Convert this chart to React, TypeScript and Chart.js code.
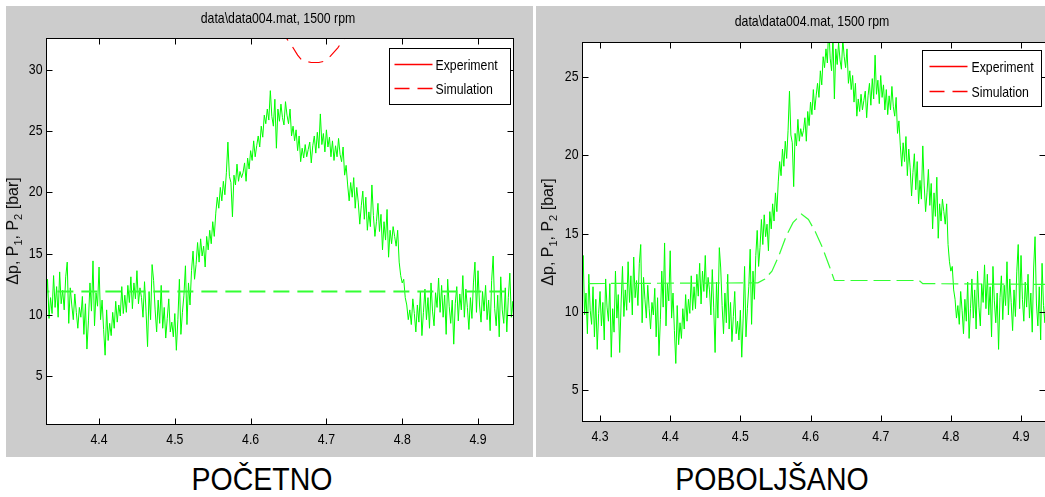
import React, { useEffect, useRef } from 'react';
import { Chart, registerables } from 'chart.js';

Chart.register(...registerables);

const REGULAR = '"Liberation Sans", Arial, sans-serif';
const NARROW_SCALE = 0.82;

// ---------------- DATA ----------------
// experiment samples (same measurement in both panels), starting at t = 4.270 s, every 0.002 s
const expStart = 4.27;
const expStep = 0.002;
const expValues = [
  // 4.270
  12.8, 14.2, 10.4, 13.6, 9.8, 11.2, 8.6, 12.4, 10.1, 9.2,
  // 4.290
  11.6, 8.4, 10.8, 7.6, 9.9, 11.3, 9.1, 10.6, 8.2, 12.1,
  // 4.310
  10.3, 9.4, 11.8, 7.1, 10.2, 8.7, 12.6, 9.6, 11.1, 7.4,
  // 4.330
  10.5, 12.9, 9.7, 11.4, 10.1, 13.2, 10.6, 12.3, 9.8, 13.5,
  // 4.350
  10.9, 12.0, 10.4, 13.1, 14.3, 9.3, 12.2, 10.8, 9.6, 11.7,
  // 4.370
  10.2, 8.9, 10.6, 9.8, 11.5, 8.4, 10.9, 7.2, 9.5, 12.6,
  // 4.390
  10.3, 14.4, 9.1, 11.8, 10.7, 13.9, 9.6, 11.2, 8.8, 6.7,
  // 4.410
  10.4, 7.9, 9.3, 8.3, 10.2, 8.9, 11.1, 9.4, 10.8, 9.9,
  // 4.430
  12.3, 10.1, 11.6, 10.2, 12.4, 11.0, 13.1, 10.5, 12.6, 11.3,
  // 4.450
  13.6, 10.9, 12.2, 11.4, 9.8, 12.7, 10.3, 7.4, 11.9, 9.6,
  // 4.470
  14.1, 12.8, 10.4, 8.6, 11.2, 9.3, 12.4, 8.9, 10.6, 8.1,
  // 4.490
  9.7, 11.3, 8.6, 9.4, 8.2, 10.1, 7.1, 9.6, 12.9, 8.4,
  // 4.510
  10.2, 11.6, 14.0, 9.2, 12.6, 10.8, 13.6, 15.2, 12.9, 14.1,
  // 4.530
  15.9, 14.3, 16.2, 14.8, 15.6, 13.9, 16.4, 15.3, 16.9, 15.8,
  // 4.550
  17.6, 16.4, 18.3, 19.6, 18.7, 20.4, 19.3, 20.9, 19.8, 21.6,
  // 4.570
  24.1, 21.3, 20.8, 18.0, 21.4, 20.6, 22.3, 20.9, 21.7, 21.2,
  // 4.590
  21.6, 22.4, 20.9, 22.8, 21.9, 23.4, 22.6, 24.2, 22.9, 23.8,
  // 4.610
  24.6, 23.7, 25.4, 24.5, 26.3, 25.6, 26.8, 25.9, 28.3, 26.2,
  // 4.630
  25.4, 27.6, 23.6, 26.8, 25.8, 27.2, 26.1, 25.5, 27.4, 26.3,
  // 4.650
  25.6, 26.8, 24.6, 25.4, 24.2, 25.1, 23.4, 24.6, 22.5, 23.6,
  // 4.670
  22.8, 23.9, 22.9, 23.5, 24.1, 22.4, 23.8, 24.6, 23.2, 24.9,
  // 4.690
  23.6, 26.4, 23.9, 24.8, 23.3, 25.1, 23.7, 24.5, 22.9, 24.2,
  // 4.710
  22.6, 23.8, 22.9, 24.4, 23.1, 22.5, 23.7, 21.4, 22.2, 20.6,
  // 4.730
  19.3, 20.8, 19.6, 21.2, 18.7, 20.4, 19.2, 17.4, 18.9, 20.1,
  // 4.750
  17.8, 19.6, 16.9, 18.4, 17.2, 20.6, 18.1, 16.4, 17.6, 19.1,
  // 4.770
  16.8, 18.2, 15.3, 17.6, 16.1, 18.6, 14.7, 16.9, 15.8, 17.2,
  // 4.790
  16.4, 15.6, 16.9, 14.3, 13.2, 12.6, 12.9, 11.4, 10.8, 9.6,
  // 4.810
  10.4, 9.2, 11.3, 10.1, 8.6, 10.8, 9.4, 11.9, 8.3, 10.2,
  // 4.830
  12.1, 9.6, 11.4, 8.9, 12.6, 10.3, 9.1, 11.8, 10.6, 13.0,
  // 4.850
  10.2, 12.4, 9.8, 11.6, 8.4, 12.9, 10.7, 9.3, 11.2, 7.6,
  // 4.870
  10.9, 12.3, 9.5, 11.7, 10.4, 13.2, 9.8, 12.1, 10.6, 8.8,
  // 4.890
  11.4, 9.7, 12.6, 14.3, 10.2, 13.6, 10.8, 9.4, 11.9, 10.3,
  // 4.910
  12.4, 9.6, 11.2, 8.7, 12.8, 14.8, 10.5, 9.1, 11.6, 8.2,
  // 4.930
  13.1, 10.4, 9.3, 12.2, 8.6, 11.4, 13.4, 9.8, 11.1, 8.4,
  // 4.950
  10.7,
];

// left panel ("POČETNO") simulation
const simLeftX = [4.25, 4.95];
const simLeftY = [11.9, 11.9];
const simRedX = [4.638, 4.647, 4.655, 4.662, 4.668, 4.68, 4.69, 4.697, 4.705, 4.715, 4.724, 4.732];
const simRedY = [33.4, 32.6, 31.9, 31.2, 30.75, 30.6, 30.6, 30.7, 31.1, 31.8, 32.6, 33.4];

// right panel ("POBOLJŠANO") simulation
const simRightX = [4.25, 4.525, 4.535, 4.545, 4.555, 4.565, 4.575, 4.587, 4.597, 4.607, 4.617, 4.627, 4.634, 4.7, 4.755, 4.76, 4.95];
const simRightY = [11.8, 11.85, 12.1, 12.6, 13.6, 14.8, 15.7, 16.25, 15.9, 15.1, 14.1, 12.9, 12.0, 12.0, 12.0, 11.8, 11.75];

const leftXTicks = [4.4, 4.5, 4.6, 4.7, 4.8, 4.9];
const leftYTicks = [5, 10, 15, 20, 25, 30];
const rightXTicks = [4.3, 4.4, 4.5, 4.6, 4.7, 4.8, 4.9];
const rightYTicks = [5, 10, 15, 20, 25];

const titleText = 'data\\data004.mat, 1500 rpm';
const legendLabels = ['Experiment', 'Simulation'];
const yLabelParts = [
  { t: 'Δp, P', sub: false },
  { t: '1', sub: true },
  { t: ', P', sub: false },
  { t: '2', sub: true },
  { t: ' [bar]', sub: false },
];
const captions = ['POČETNO', 'POBOLJŠANO'];

// ---------------- RENDERING ----------------
type Sim = { x: number[]; y: number[]; color: string; width: number; dash: number[] };
type PanelCfg = {
  left: number; top: number; width: number; height: number; canvasWidth: number;
  xMin: number; xMax: number; yMin: number; yMax: number;
  xTicks: number[]; yTicks: number[];
  yAxisWidth: number; padTop: number; xAxisHeight: number; padRight: number;
  titleY: number; titleDX: number;
  yLabelX: number; yLabelY: number;
  legend: { right: number; top: number; w: number; h: number; lineX0: number; lineX1: number; textX: number; row1: number; row2: number };
  sims: Sim[];
};

function narrowText(ctx: CanvasRenderingContext2D, text: string, x: number, y: number, align: CanvasTextAlign, size = 15) {
  ctx.save();
  ctx.translate(x, y);
  ctx.scale(NARROW_SCALE, 1);
  ctx.font = `${size}px ${REGULAR}`;
  ctx.textAlign = align;
  ctx.textBaseline = 'middle';
  ctx.fillStyle = '#000';
  ctx.fillText(text, 0, 0);
  ctx.restore();
}

function makePlugin(cfg: PanelCfg) {
  return {
    id: 'matlabLook',
    beforeDatasetsDraw(chart: any) {
      const { ctx, chartArea: a } = chart;
      ctx.save();
      ctx.fillStyle = '#ffffff';
      ctx.fillRect(a.left, a.top, a.right - a.left, a.bottom - a.top);
      ctx.restore();
    },
    afterDraw(chart: any) {
      const { ctx, chartArea: a, scales } = chart;
      ctx.save();
      ctx.strokeStyle = '#000';
      ctx.lineWidth = 1;
      const L = Math.round(a.left) + 0.5, T = Math.round(a.top) + 0.5;
      const R = Math.round(a.right) - 0.5, B = Math.round(a.bottom) - 0.5;
      ctx.strokeRect(L, T, R - L, B - T);
      ctx.beginPath();
      for (const v of cfg.xTicks) {
        const x = Math.round(scales.x.getPixelForValue(v)) + 0.5;
        ctx.moveTo(x, B); ctx.lineTo(x, B - 6);
        ctx.moveTo(x, T); ctx.lineTo(x, T + 6);
      }
      for (const v of cfg.yTicks) {
        const y = Math.round(scales.y.getPixelForValue(v)) + 0.5;
        ctx.moveTo(L, y); ctx.lineTo(L + 6, y);
        ctx.moveTo(R, y); ctx.lineTo(R - 6, y);
      }
      ctx.stroke();

      // tick labels (narrow MATLAB look)
      for (const v of cfg.xTicks) {
        narrowText(ctx, v.toFixed(1), scales.x.getPixelForValue(v), B + 15, 'center');
      }
      for (const v of cfg.yTicks) {
        narrowText(ctx, String(v), L - 4, scales.y.getPixelForValue(v), 'right');
      }

      // title
      narrowText(ctx, titleText, (a.left + a.right) / 2 + cfg.titleDX, cfg.titleY, 'center');

      // y axis label with subscripts
      ctx.save();
      ctx.translate(cfg.yLabelX, cfg.yLabelY);
      ctx.rotate(-Math.PI / 2);
      ctx.textAlign = 'left';
      ctx.textBaseline = 'middle';
      ctx.fillStyle = '#111';
      const mainFont = `16px ${REGULAR}`;
      const subFont = `11px ${REGULAR}`;
      let total = 0;
      for (const p of yLabelParts) {
        ctx.font = p.sub ? subFont : mainFont;
        total += ctx.measureText(p.t).width;
      }
      let cx = -total / 2;
      for (const p of yLabelParts) {
        ctx.font = p.sub ? subFont : mainFont;
        ctx.fillText(p.t, cx, p.sub ? 5 : 0);
        cx += ctx.measureText(p.t).width;
      }
      ctx.restore();

      // legend
      const lg = cfg.legend;
      const bx = Math.round(a.right - lg.right - lg.w) + 0.5;
      const by = Math.round(a.top + lg.top) + 0.5;
      ctx.fillStyle = '#fff';
      ctx.fillRect(bx, by, lg.w, lg.h);
      ctx.strokeStyle = '#000';
      ctx.lineWidth = 1;
      ctx.strokeRect(bx, by, lg.w, lg.h);
      ctx.strokeStyle = '#ff0000';
      ctx.lineWidth = 1.3;
      ctx.beginPath();
      ctx.moveTo(bx + lg.lineX0, by + lg.row1);
      ctx.lineTo(bx + lg.lineX1, by + lg.row1);
      ctx.stroke();
      ctx.setLineDash([15, 8]);
      ctx.beginPath();
      ctx.moveTo(bx + lg.lineX0, by + lg.row2);
      ctx.lineTo(bx + lg.lineX1, by + lg.row2);
      ctx.stroke();
      ctx.setLineDash([]);
      narrowText(ctx, legendLabels[0], bx + lg.textX, by + lg.row1 + 1, 'left');
      narrowText(ctx, legendLabels[1], bx + lg.textX, by + lg.row2 + 1, 'left');
      ctx.restore();
    },
  };
}

function Panel({ cfg }: { cfg: PanelCfg }) {
  const ref = useRef<HTMLCanvasElement>(null);
  useEffect(() => {
    const canvas = ref.current!;
    const datasets: any[] = [
      ...cfg.sims.map((s) => ({
        data: s.x.map((x, i) => ({ x, y: s.y[i] })),
        borderColor: s.color,
        borderWidth: s.width,
        borderDash: s.dash,
        pointRadius: 0,
        fill: false,
        tension: 0,
      })),
      {
        data: expValues.map((y, i) => ({ x: expStart + i * expStep, y })),
        borderColor: '#00ff00',
        borderWidth: 1,
        pointRadius: 0,
        fill: false,
        tension: 0,
      },
    ];
    const chart = new Chart(canvas, {
      type: 'line',
      data: { datasets },
      options: {
        animation: false,
        responsive: false,
        maintainAspectRatio: false,
        devicePixelRatio: 1,
        events: [],
        layout: { padding: { left: 0, top: cfg.padTop, right: cfg.padRight, bottom: 0 } },
        plugins: { legend: { display: false }, tooltip: { enabled: false }, title: { display: false } },
        scales: {
          x: {
            type: 'linear',
            min: cfg.xMin,
            max: cfg.xMax,
            grid: { display: false, drawTicks: false },
            border: { display: false },
            ticks: { display: false },
            afterBuildTicks: (s: any) => { s.ticks = cfg.xTicks.map((v) => ({ value: v })); },
            afterFit: (s: any) => { s.height = cfg.xAxisHeight; },
          },
          y: {
            type: 'linear',
            min: cfg.yMin,
            max: cfg.yMax,
            grid: { display: false, drawTicks: false },
            border: { display: false },
            ticks: { display: false },
            afterBuildTicks: (s: any) => { s.ticks = cfg.yTicks.map((v) => ({ value: v })); },
            afterFit: (s: any) => { s.width = cfg.yAxisWidth; },
          },
        },
      } as any,
      plugins: [makePlugin(cfg) as any],
    });
    return () => chart.destroy();
  }, []);
  return (
    <div
      style={{
        position: 'absolute', left: cfg.left, top: cfg.top, width: cfg.width, height: cfg.height,
        background: '#cccccc', overflow: 'hidden',
      }}
    >
      <canvas
        ref={ref}
        width={cfg.canvasWidth}
        height={cfg.height}
        style={{ display: 'block', width: cfg.canvasWidth, height: cfg.height }}
      />
    </div>
  );
}

const leftCfg: PanelCfg = {
  left: 6, top: 6, width: 527, height: 451, canvasWidth: 527,
  xMin: 4.33, xMax: 4.9475, yMin: 1.0, yMax: 32.6,
  xTicks: leftXTicks, yTicks: leftYTicks,
  yAxisWidth: 40, padTop: 32, xAxisHeight: 32, padRight: 19,
  titleY: 13, titleDX: -2,
  yLabelX: 8, yLabelY: 225,
  legend: { right: 4, top: 10, w: 121, h: 56, lineX0: 5, lineX1: 43, textX: 46, row1: 16, row2: 40 },
  sims: [
    { x: simRedX, y: simRedY, color: '#ff0000', width: 1.2, dash: [15, 8] },
    { x: simLeftX, y: simLeftY, color: '#33ff33', width: 2, dash: [16, 8] },
  ],
};

const rightCfg: PanelCfg = {
  left: 536, top: 6, width: 509, height: 451, canvasWidth: 512,
  xMin: 4.2743, xMax: 4.9356, yMin: 2.96, yMax: 27.24,
  xTicks: rightXTicks, yTicks: rightYTicks,
  yAxisWidth: 46, padTop: 36, xAxisHeight: 35, padRight: 2,
  titleY: 16, titleDX: -2,
  yLabelX: 13, yLabelY: 226,
  legend: { right: 5, top: 8, w: 119, h: 56, lineX0: 7, lineX1: 45, textX: 49, row1: 16, row2: 41 },
  sims: [
    { x: simRightX, y: simRightY, color: '#33ff33', width: 1.2, dash: [17, 6] },
  ],
};

export default function App() {
  const capStyle = (cx: number): React.CSSProperties => ({
    position: 'absolute', left: cx - 200, top: 464, width: 400, textAlign: 'center',
    fontFamily: REGULAR, fontSize: 31, lineHeight: '31px', color: '#000',
    transform: 'scaleX(0.92)', transformOrigin: '50% 50%',
  });
  return (
    <div style={{ position: 'absolute', left: 0, top: 0, width: 1045, height: 497, overflow: 'hidden', background: '#fff' }}>
      <Panel cfg={leftCfg} />
      <Panel cfg={rightCfg} />
      <div style={capStyle(262)}>{captions[0]}</div>
      <div style={capStyle(772)}>{captions[1]}</div>
    </div>
  );
}
